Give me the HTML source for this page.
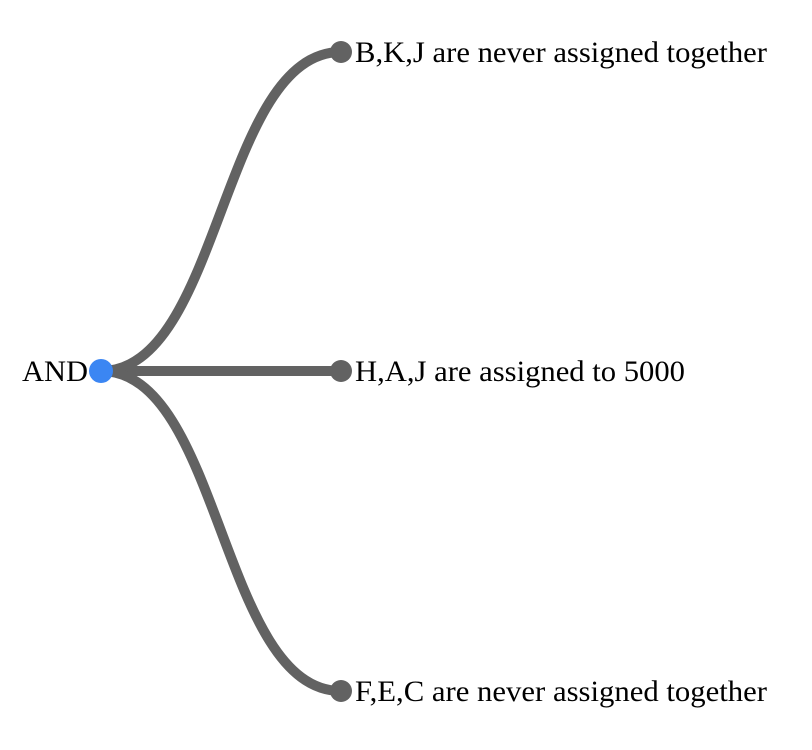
<!DOCTYPE html>
<html><head><style>body{margin:0;background:#fff}svg{display:block}</style></head>
<body>
<svg width="812" height="750" xmlns="http://www.w3.org/2000/svg" font-family="Liberation Serif, serif" font-size="30">
<g fill="none" stroke="#626262" stroke-width="10">
<path d="M101,371 C221,371 221,52 341,52"/>
<path d="M101,371 L341,371"/>
<path d="M101,371 C221,371 221,691 341,691"/>
</g>
<circle cx="101" cy="371" r="12" fill="#3b86f3"/>
<circle cx="341" cy="52" r="11" fill="#626262"/>
<circle cx="341" cy="371" r="11" fill="#626262"/>
<circle cx="341" cy="691" r="11" fill="#626262"/>
<text x="88" y="381" text-anchor="end" textLength="66" lengthAdjust="spacingAndGlyphs">AND</text>
<text x="355" y="62" textLength="412" lengthAdjust="spacingAndGlyphs">B,K,J are never assigned together</text>
<text x="355" y="381" textLength="330" lengthAdjust="spacingAndGlyphs">H,A,J are assigned to 5000</text>
<text x="355" y="701" textLength="412" lengthAdjust="spacingAndGlyphs">F,E,C are never assigned together</text>
</svg>
</body></html>
